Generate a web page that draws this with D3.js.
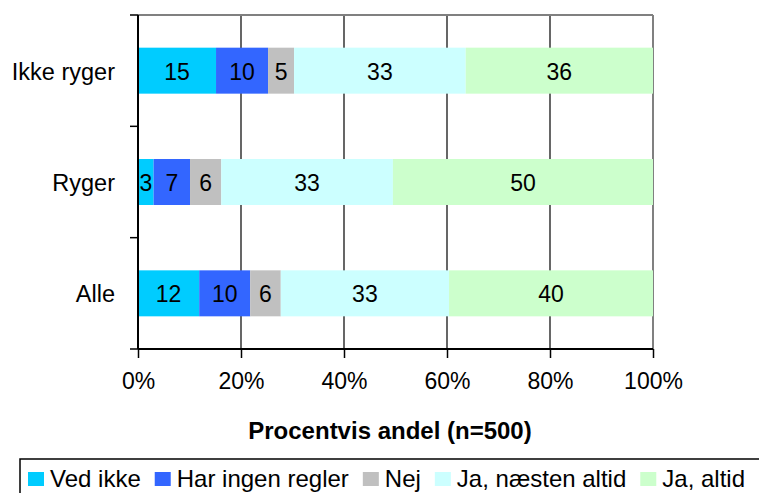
<!DOCTYPE html>
<html>
<head>
<meta charset="utf-8">
<script src="https://cdn.jsdelivr.net/npm/d3@7"></script>
<style>
  html, body { margin: 0; padding: 0; background: #fff; }
  svg { display: block; font-family: "Liberation Sans", Arial, sans-serif; }
</style>
</head>
<body>
<svg id="chart" width="759" height="493"></svg>
<script>
// ---- Data ----
const categories = ["Ikke ryger", "Ryger", "Alle"];
const seriesNames = ["Ved ikke", "Har ingen regler", "Nej", "Ja, næsten altid", "Ja, altid"];
const vedIkke        = [15, 3, 12];
const harIngenRegler = [10, 7, 10];
const nej            = [5, 6, 6];
const jaNaestenAltid = [33, 33, 33];
const jaAltid        = [36, 50, 40];
const seriesColors = ["#00CCFF", "#3366FF", "#C0C0C0", "#CCFFFF", "#CCFFCC"];
const xTickValues = [0, 0.2, 0.4, 0.6, 0.8, 1];
const xTickLabels = ["0%", "20%", "40%", "60%", "80%", "100%"];
const xTitle = "Procentvis andel (n=500)";

const seriesValues = [vedIkke, harIngenRegler, nej, jaNaestenAltid, jaAltid];

// ---- Layout ----
const svg = d3.select("#chart");
const fontSize = 23;
const pLeft = 138, pRight = 653, pTop = 15, pBottom = 349;

const x = d3.scaleLinear().domain([0, 1]).range([pLeft, pRight]);
const y = d3.scaleBand().domain(categories).range([pTop, pBottom])
  .paddingInner(0.587).paddingOuter(0.2935);

// stacked data (100% stacked)
const rows = categories.map((c, i) => {
  const r = { cat: c };
  seriesNames.forEach((s, j) => r[s] = seriesValues[j][i]);
  return r;
});
const stacked = d3.stack().keys(seriesNames).offset(d3.stackOffsetExpand)(rows);

// gridlines (20..80)
svg.append("g").selectAll("line")
  .data(xTickValues.filter(v => v > 0 && v < 1))
  .join("line")
  .attr("x1", d => x(d)).attr("x2", d => x(d))
  .attr("y1", pTop).attr("y2", pBottom)
  .attr("stroke", "#000").attr("stroke-width", 1.2);

// plot border top & right (gray)
svg.append("line").attr("x1", pLeft).attr("x2", pRight).attr("y1", pTop).attr("y2", pTop)
  .attr("stroke", "#808080").attr("stroke-width", 2);
svg.append("line").attr("x1", pRight).attr("x2", pRight).attr("y1", pTop).attr("y2", pBottom)
  .attr("stroke", "#808080").attr("stroke-width", 2);

// bars
const layers = svg.append("g").selectAll("g")
  .data(stacked).join("g")
  .attr("fill", (d, i) => seriesColors[i]);
layers.selectAll("rect")
  .data(d => d.map(p => ({ p, cat: p.data.cat })))
  .join("rect")
  .attr("x", d => x(d.p[0]))
  .attr("width", d => x(d.p[1]) - x(d.p[0]))
  .attr("y", d => y(d.cat))
  .attr("height", y.bandwidth());

// data labels (raw values)
const labels = svg.append("g")
  .attr("font-size", fontSize).attr("fill", "#000").attr("text-anchor", "middle");
stacked.forEach(layer => {
  layer.forEach(p => {
    labels.append("text")
      .attr("x", (x(p[0]) + x(p[1])) / 2)
      .attr("y", y(p.data.cat) + y.bandwidth() / 2 + 9)
      .text(p.data[layer.key]);
  });
});

// x axis
const xAxis = d3.axisBottom(x).tickValues(xTickValues)
  .tickFormat((d, i) => xTickLabels[i])
  .tickSize(9).tickPadding(14);
const gx = svg.append("g").attr("transform", `translate(0,${pBottom})`).call(xAxis);
gx.select(".domain").attr("stroke", "#000").attr("stroke-width", 2)
  .attr("d", `M${pLeft},0H${pRight}`);
gx.selectAll(".tick line").attr("stroke", "#000").attr("stroke-width", 1.5);
gx.selectAll(".tick text").attr("font-size", fontSize).attr("fill", "#000")
  .attr("font-family", "Liberation Sans, Arial, sans-serif").attr("dy", "0.75em");

// y axis line with ticks at band boundaries
svg.append("line").attr("x1", pLeft).attr("x2", pLeft).attr("y1", pTop).attr("y2", pBottom)
  .attr("stroke", "#000").attr("stroke-width", 2);
const step = y.step();
const boundaries = d3.range(categories.length + 1).map(i => y.range()[0] + i * step);
svg.append("g").selectAll("line").data(boundaries).join("line")
  .attr("x1", pLeft - 8).attr("x2", pLeft)
  .attr("y1", d => d).attr("y2", d => d)
  .attr("stroke", "#000").attr("stroke-width", 1.5);

// category labels
svg.append("g").selectAll("text").data(categories).join("text")
  .attr("x", 115)
  .attr("y", d => y(d) + y.bandwidth() / 2 + 9)
  .attr("text-anchor", "end")
  .attr("font-size", 23.5).attr("fill", "#000")
  .text(d => d);

// x title
svg.append("text")
  .attr("x", 390).attr("y", 439)
  .attr("text-anchor", "middle").attr("font-weight", "bold")
  .attr("font-size", 24).attr("fill", "#000")
  .text(xTitle);

// legend
const lg = svg.append("g");
lg.append("rect").attr("x", 20).attr("y", 459).attr("width", 760).attr("height", 60)
  .attr("fill", "#fff").attr("stroke", "#000").attr("stroke-width", 1.5);
let lx = 28;
seriesNames.forEach((s, i) => {
  lg.append("rect").attr("x", lx).attr("y", 472).attr("width", 16).attr("height", 14)
    .attr("fill", seriesColors[i]);
  const t = lg.append("text").attr("x", lx + 22).attr("y", 487)
    .attr("font-size", 24).attr("fill", "#000").text(s);
  lx = lx + 22 + t.node().getComputedTextLength() + 14;
});
</script>
</body>
</html>
